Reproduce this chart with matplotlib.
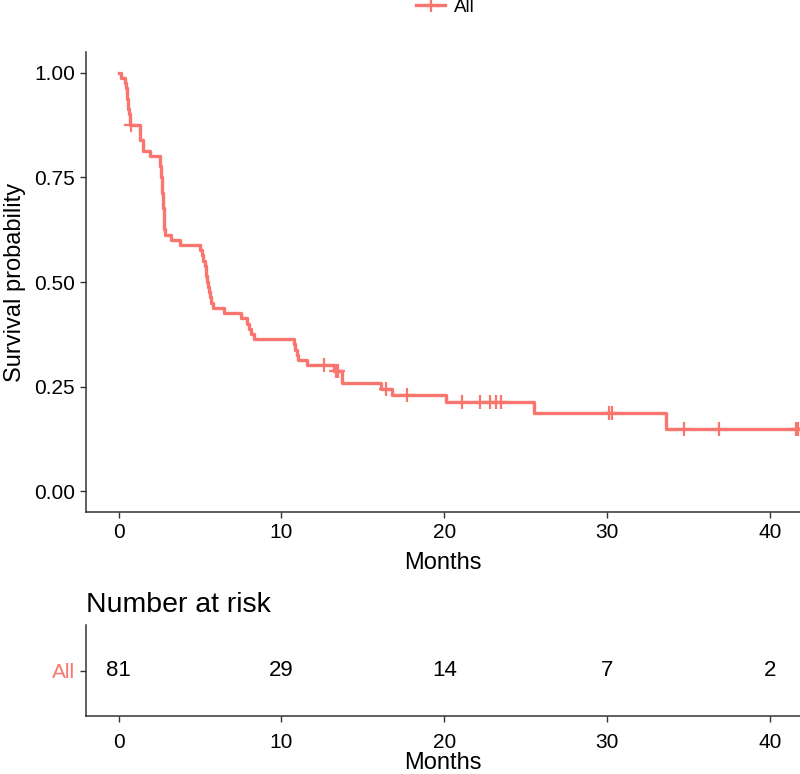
import numpy as np
import matplotlib
matplotlib.use('Agg')
import matplotlib.pyplot as plt
from matplotlib.lines import Line2D

plt.rcParams['font.family'] = ['Liberation Sans', 'DejaVu Sans']

# ---- data ----
event_times = [0.15, 0.40, 0.45, 0.50, 0.52, 0.55, 0.58, 0.63, 0.68, 0.72,
               1.30, 1.30, 1.30, 1.50, 1.50, 1.90,
               2.55, 2.57, 2.60, 2.62, 2.64, 2.66, 2.68, 2.70, 2.72, 2.74,
               2.76, 2.78, 2.80, 2.82, 2.85,
               3.20, 3.80,
               5.00, 5.10, 5.20, 5.30, 5.35, 5.40, 5.45, 5.50, 5.55, 5.60,
               5.70, 5.80,
               6.45, 7.50, 7.90, 8.00, 8.15, 8.30,
               10.75, 10.85, 10.95, 11.05, 11.60, 13.25, 13.70, 13.75,
               16.10, 16.80, 20.10, 25.50, 33.60]
censor_times = [0.78, 12.60, 13.35, 13.50, 16.40, 17.70,
                21.10, 22.20, 22.80, 23.20, 23.50,
                30.10, 30.30, 34.70, 36.90, 41.60, 41.75]
risk_times = [0, 10, 20, 30, 40]
risk_counts = [81, 29, 14, 7, 2]
group_label = 'All'
color = '#F8766D'

# ---- Kaplan-Meier ----
ev = np.array(event_times)
ce = np.array(censor_times)
all_t = np.concatenate([ev, ce])
uniq = np.unique(ev)
S = 1.0
step_t = [0.0]
step_s = [1.0]
for t in uniq:
    d = np.sum(ev == t)
    n = np.sum(all_t >= t)
    S *= (1 - d / n)
    step_t.append(t)
    step_s.append(S)
step_t.append(all_t.max())
step_s.append(S)
step_t = np.array(step_t)
step_s = np.array(step_s)

def surv_at(t):
    idx = np.searchsorted(step_t[:-1], t, side='right') - 1
    return step_s[idx]

cens_s = [surv_at(t) for t in censor_times]

# ---- figure ----
fig = plt.figure(figsize=(8.0, 7.74), dpi=100)
W, H = 800, 774
ax = fig.add_axes([86 / W, 1 - 512 / H, 714 / W, 460 / H])
ax.step(step_t, step_s, where='post', color=color, lw=2.4)
ax.plot(censor_times, cens_s, linestyle='none', marker='+', color=color,
        markersize=10, markeredgewidth=1.6)
ax.set_xlim(-2.0, 41.85)
ax.set_ylim(-0.05, 1.05)
ax.set_yticks([0, 0.25, 0.5, 0.75, 1.0])
ax.set_yticklabels(['0.00', '0.25', '0.50', '0.75', '1.00'])
ax.set_xticks(risk_times)
for s in ['top', 'right']:
    ax.spines[s].set_visible(False)
for s in ['left', 'bottom']:
    ax.spines[s].set_color('#333333')
    ax.spines[s].set_linewidth(1.1)
ax.tick_params(labelsize=15, length=4, width=1.0, color='#333333', labelcolor='black', pad=4)
ax.set_xlabel('Months', fontsize=17, labelpad=7)
ax.set_ylabel('Survival probability', fontsize=17, labelpad=6)

# legend
h = Line2D([], [], color=color, lw=2.4, marker='+', markersize=10, markeredgewidth=1.6)
fig.legend([h], [group_label], loc='center', bbox_to_anchor=(0.557, 0.991),
           frameon=False, fontsize=13.5, handlelength=1.5, handletextpad=0.5)

# risk table
rax = fig.add_axes([86 / W, 1 - 716 / H, 714 / W, 91 / H])
rax.set_xlim(-2.0, 41.85)
rax.set_ylim(0, 1)
for t, c in zip(risk_times, risk_counts):
    rax.text(t, 0.5, str(c), ha='center', va='center', fontsize=16)
rax.set_xticks(risk_times)
rax.set_yticks([0.5])
rax.set_yticklabels([group_label])
for s in ['top', 'right']:
    rax.spines[s].set_visible(False)
for s in ['left', 'bottom']:
    rax.spines[s].set_color('#333333')
    rax.spines[s].set_linewidth(1.1)
rax.tick_params(labelsize=15, length=4, width=1.0, color='#333333', pad=4)
rax.tick_params(axis='x', pad=8)
rax.tick_params(axis='y', labelcolor=color)
rax.set_xlabel('Months', fontsize=17, labelpad=0)
rax.set_title('Number at risk', loc='left', fontsize=20.5, pad=9)

fig.savefig('out.png', dpi=100)
